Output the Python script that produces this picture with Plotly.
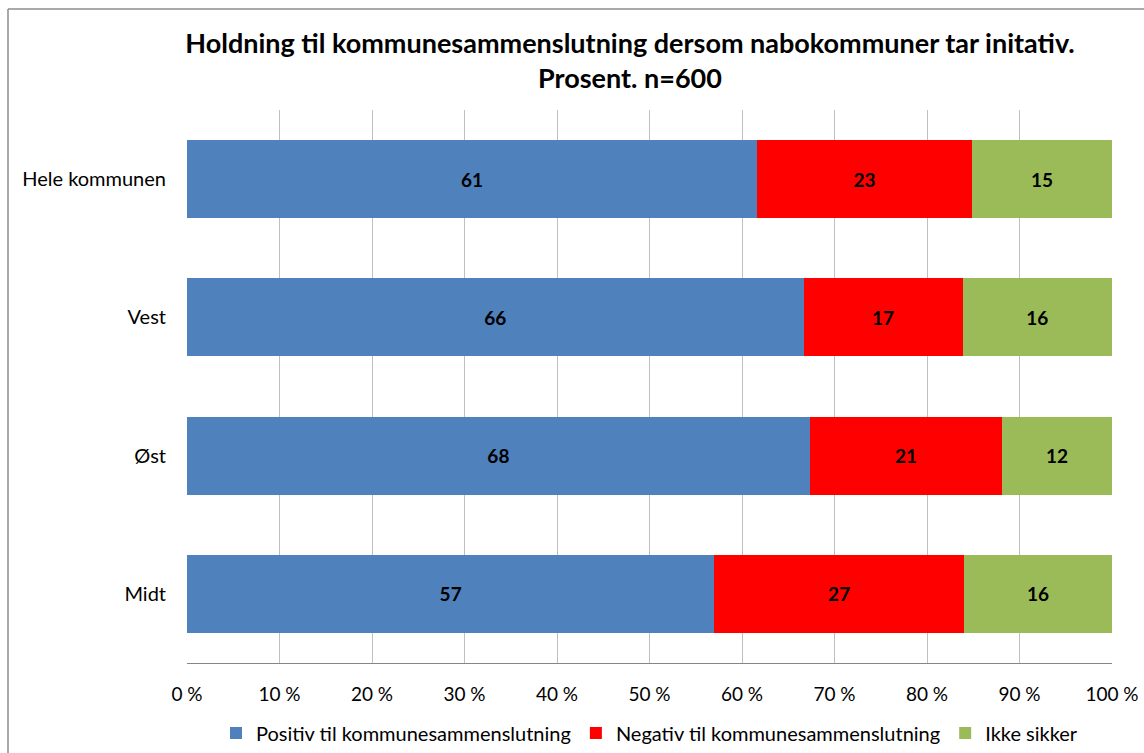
import plotly.graph_objects as go

categories = ["Hele kommunen", "Vest", "Øst", "Midt"]
positiv = [61, 66, 68, 57]
negativ = [23, 17, 21, 27]
ikke_sikker = [15, 16, 12, 16]
series_names = ["Positiv til kommunesammenslutning", "Negativ til kommunesammenslutning", "Ikke sikker"]
colors = ["#4F81BD", "#FF0000", "#9BBB59"]
tick_vals = list(range(0, 101, 10))
tick_text = [f"{v} %" for v in tick_vals]

FONT = "Lato"
fig = go.Figure()
for name, vals, col in zip(series_names, [positiv, negativ, ikke_sikker], colors):
    fig.add_trace(go.Bar(
        y=categories, x=vals, name=name, orientation="h",
        marker=dict(color=col, line=dict(width=0)),
        text=[str(v) for v in vals], textposition="inside",
        insidetextanchor="middle",
        textfont=dict(family=FONT, size=19, color="black", weight="bold"),
        constraintext="none",
    ))

fig.update_layout(
    barmode="stack", barnorm="percent", bargap=0.435,
    width=1144, height=753,
    margin=dict(l=187, r=32, t=110, b=90, autoexpand=False),
    paper_bgcolor="white", plot_bgcolor="white",
    font=dict(family=FONT, size=20, color="black"),
    title=dict(
        text="Holdning til kommunesammenslutning dersom nabokommuner tar initativ.<br>Prosent. n=600",
        x=630/1144, xanchor="center", y=1-53/753, yanchor="middle",
        font=dict(family=FONT, size=27, color="black", weight="bold"),
    ),
    xaxis=dict(range=[0, 100], tickvals=tick_vals, ticktext=tick_text,
               showgrid=True, gridcolor="#BFBFBF", gridwidth=1,
               showline=True, linecolor="#868686", linewidth=1,
               zeroline=False, ticks="", ticklabelstandoff=14,
               automargin=False,
               tickfont=dict(family=FONT, size=19)),
    yaxis=dict(autorange="reversed", showgrid=False, showline=False,
               ticks="", ticklabelstandoff=20, automargin=False,
               tickfont=dict(family=FONT, size=20)),
    legend=dict(orientation="h", x=0.5, xanchor="center", xref="paper",
                y=1-733/753, yanchor="middle", yref="container",
                font=dict(family=FONT, size=20), itemwidth=30,
                traceorder="normal"),
    shapes=[
        dict(type="line", xref="paper", yref="paper",
             x0=(8-187)/925, x1=(1160-187)/925, y0=1+(110-9)/553, y1=1+(110-9)/553,
             line=dict(color="#8C8C8C", width=1.5)),
        dict(type="line", xref="paper", yref="paper",
             x0=(8-187)/925, x1=(8-187)/925, y0=1+(110-9)/553, y1=-(760-663)/553,
             line=dict(color="#8C8C8C", width=1.5)),
    ],
)
fig.write_html("out.html", config={"displayModeBar": False},
               post_script="document.body.style.margin='0';document.body.style.overflow='hidden';")
